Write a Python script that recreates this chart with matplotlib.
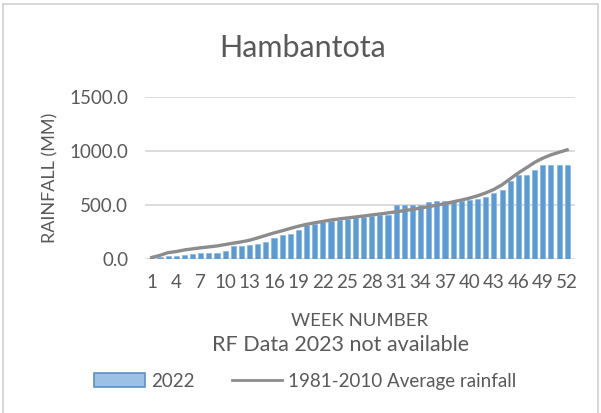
import numpy as np
import matplotlib
matplotlib.use("Agg")
import matplotlib.pyplot as plt
from matplotlib.lines import Line2D
from matplotlib.patches import Patch

plt.rcParams['font.family'] = ['Lato', 'DejaVu Sans']

weeks = np.arange(1, 53)
rain_2022 = [5, 15, 23, 22, 36, 44, 56, 56, 56, 69,
             112, 115, 124, 139, 158, 188, 222, 232, 268, 308,
             323, 338, 350, 356, 368, 384, 390, 396, 400, 405,
             500, 500, 500, 500, 521, 530, 530, 521, 537, 543,
             557, 573, 613, 634, 720, 773, 773, 819, 870, 870,
             870, 870]
avg_1981_2010 = [10, 30, 55, 65, 80, 90, 100, 108, 117, 130,
                 143, 155, 170, 192, 215, 238, 258, 280, 300, 318,
                 332, 345, 358, 368, 377, 386, 395, 405, 414, 424,
                 434, 445, 456, 470, 482, 496, 510, 527, 543, 561,
                 583, 610, 642, 685, 740, 795, 843, 893, 932, 963,
                 987, 1010]
yticks = [0, 500, 1000, 1500]

txt = '#595959'
fig = plt.figure(figsize=(6.01, 4.13), dpi=100)
# outer chart border
fig.add_artist(plt.Rectangle((0.005, -0.01), 0.99, 1.0, transform=fig.transFigure,
                             fill=False, edgecolor='#d0d0d0', lw=1.2))
ax = fig.add_axes([0.241, 0.374, 0.716, 0.391])

ax.bar(weeks, rain_2022, width=0.62, color='#5b9bd5', edgecolor='#7fb1e0', lw=0.4, zorder=2)
ax.plot(weeks, avg_1981_2010, color='#8c8c8c', lw=2.4, zorder=3)

ax.set_xlim(0.14, 52.98)
ax.set_ylim(0, 1500)
ax.set_yticks(yticks)
ax.set_yticklabels(['%.1f' % v for v in yticks], color=txt, fontsize=13.5)
ax.set_xticks(weeks[::3])
ax.set_xticklabels([str(w) for w in weeks[::3]], color=txt, fontsize=13.5)
ax.tick_params(axis='y', length=0, pad=12)
ax.tick_params(axis='x', length=0, pad=11)
ax.yaxis.grid(True, color='#d9d9d9', lw=1.3, zorder=0)
for s in ax.spines.values():
    s.set_visible(False)

fig.text(0.504, 0.884, 'Hambantota', color=txt, fontsize=22, ha='center', va='center')
fig.text(0.083, 0.569, 'RAINFALL (MM)', color=txt, fontsize=13, rotation=90,
         ha='center', va='center')
fig.text(0.599, 0.223, 'WEEK NUMBER', color=txt, fontsize=13.3, ha='center', va='center')
fig.text(0.567, 0.164, 'RF Data 2023 not available', color=txt, fontsize=15.5,
         ha='center', va='center')

handles = [Patch(facecolor='#9cc0e6', edgecolor='#5b8fc8', lw=1.2),
           Line2D([], [], color='#8c8c8c', lw=2)]
fig.legend(handles, ['2022', '1981-2010 Average rainfall'], loc='center',
           bbox_to_anchor=(0.508, 0.077), ncol=2, frameon=False, fontsize=13.5,
           labelcolor=txt, handlelength=2.7, handleheight=0.8, columnspacing=2.0,
           handletextpad=0.3)

fig.savefig('out.png', dpi=100)
